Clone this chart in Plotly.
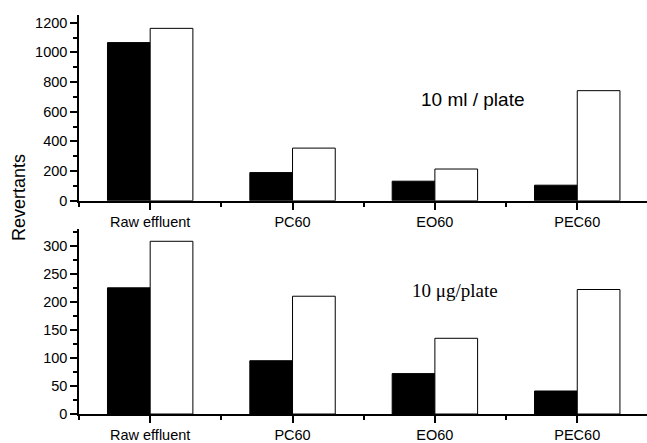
import plotly.graph_objects as go

categories = ["Raw effluent", "PC60", "EO60", "PEC60"]
top_black = [1066, 190, 132, 105]
top_white = [1162, 355, 214, 742]
bot_black = [225, 95, 72, 41]
bot_white = [308, 210, 135, 222]

xs = list(range(len(categories)))

fig = go.Figure()
line = dict(color="black", width=1)
fig.add_trace(go.Bar(x=xs, y=top_black, marker=dict(color="black", line=line), xaxis="x", yaxis="y", showlegend=False))
fig.add_trace(go.Bar(x=xs, y=top_white, marker=dict(color="white", line=line), xaxis="x", yaxis="y", showlegend=False))
fig.add_trace(go.Bar(x=xs, y=bot_black, marker=dict(color="black", line=line), xaxis="x2", yaxis="y2", showlegend=False))
fig.add_trace(go.Bar(x=xs, y=bot_white, marker=dict(color="white", line=line), xaxis="x2", yaxis="y2", showlegend=False))

xfont = dict(family="Arial, Liberation Sans, sans-serif", size=14.5, color="black")
yfont = dict(family="Arial, Liberation Sans, sans-serif", size=14.5, color="black")

def xax(anchor):
    return dict(anchor=anchor, range=[-0.5, 3.49], tickvals=xs, ticktext=categories,
                showline=True, linecolor="black", linewidth=1.5, ticks="outside", ticklen=7,
                tickwidth=1.5, tickcolor="black", showgrid=False, zeroline=False, tickfont=xfont,
                minor=dict(tick0=0.5, dtick=1, ticks="outside", ticklen=4, tickwidth=1.5, tickcolor="black", showgrid=False),
                fixedrange=True)

def yax(anchor, rng, dtick, domain):
    return dict(anchor=anchor, range=rng, dtick=dtick, domain=domain,
                showline=True, linecolor="black", linewidth=1.5, ticks="outside", ticklen=7,
                tickwidth=1.5, tickcolor="black", showgrid=False, zeroline=False, tickfont=yfont,
                minor=dict(dtick=dtick / 2, ticks="outside", ticklen=4, tickwidth=1.5, tickcolor="black", showgrid=False))

fig.update_layout(
    width=647, height=443,
    margin=dict(l=79, r=0, t=15, b=27, pad=0),
    paper_bgcolor="white", plot_bgcolor="white",
    barmode="group", bargap=0.4, bargroupgap=0,
    xaxis=xax("y"),
    yaxis=yax("x", [0, 1252], 200, [0.5344, 1.0]),
    xaxis2=xax("y2"),
    yaxis2=yax("x2", [0, 330], 50, [0.0, 0.4638]),
    annotations=[
        dict(text="10 ml / plate", x=2.27, y=682, xref="x", yref="y", showarrow=False,
             font=dict(family="Arial, Liberation Sans, sans-serif", size=19, color="black")),
        dict(text="10 μg/plate", x=2.14, y=220, xref="x2", yref="y2", showarrow=False,
             font=dict(family="Times New Roman, Liberation Serif, serif", size=19, color="black")),
        dict(text="Revertants", x=(18.5 - 79) / 568, y=(416 - 198.5) / 401, xref="paper", yref="paper",
             showarrow=False, textangle=-90, xanchor="center", yanchor="middle",
             font=dict(family="Arial, Liberation Sans, sans-serif", size=18, color="black")),
    ],
)

fig.write_html(
    "out.html",
    config={"displayModeBar": False},
    post_script="document.body.style.margin='0';document.body.style.overflow='hidden';"
                "document.documentElement.style.overflow='hidden';",
)
